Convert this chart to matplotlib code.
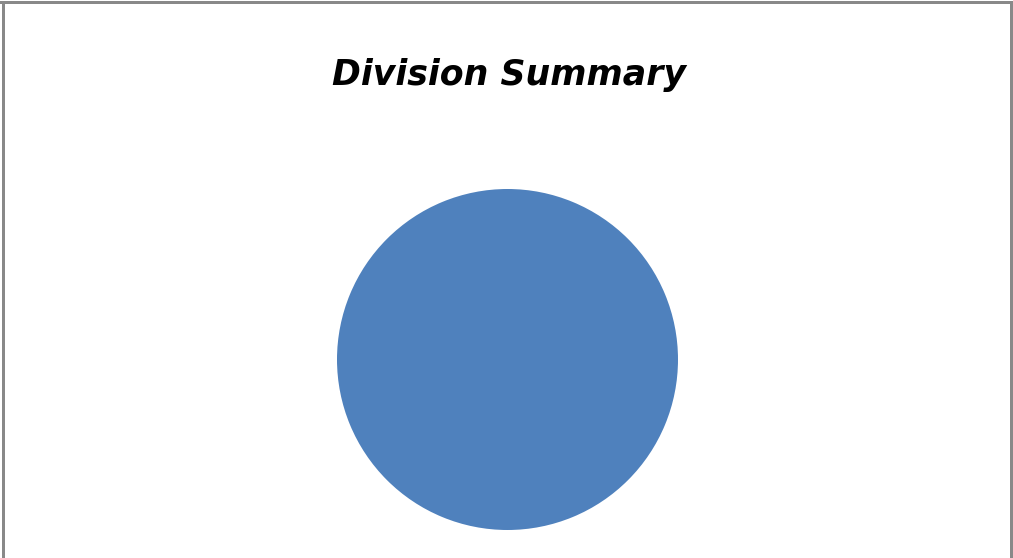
import matplotlib
matplotlib.use("Agg")
import matplotlib.pyplot as plt
from matplotlib.lines import Line2D

# Division totals (one division holds the whole share)
categories = ["Division"]
values = [100]
colors = ["#4F81BD"]

W, H = 1013, 558
fig = plt.figure(figsize=(W / 100, H / 100), dpi=100)
fig.patch.set_facecolor("white")

# Pie area in pixel units
cx, cy, r = 507.5, 359.5, 170.5
ax = fig.add_axes([(cx - r) / W, (H - cy - r) / H, 2 * r / W, 2 * r / H])
ax.pie(values, labels=None, colors=colors, startangle=90, counterclock=False,
       radius=1.0, wedgeprops=dict(linewidth=0))
ax.set_xlim(-1, 1)
ax.set_ylim(-1, 1)
ax.set_aspect("equal")
ax.axis("off")

fig.text(509 / W, 1 - 75 / H, "Division Summary", ha="center", va="center",
         fontsize=25, fontweight="bold", fontstyle="italic",
         family=["DejaVu Sans"], color="black")

# Chart frame (left, top, right edges)
gray = "#898989"
lw = 3 * 72 / 100
fig.add_artist(Line2D([2.5 / W, 2.5 / W], [0, 1 - 1.5 / H], color=gray, lw=lw,
                      transform=fig.transFigure))
fig.add_artist(Line2D([1 / W, 1 - 1 / W], [1 - 1.5 / H, 1 - 1.5 / H], color=gray,
                      lw=lw, transform=fig.transFigure))
fig.add_artist(Line2D([1 - 2.5 / W, 1 - 2.5 / W], [0, 1 - 1.5 / H], color=gray,
                      lw=lw, transform=fig.transFigure))

fig.savefig("out.png", dpi=100, facecolor="white")
